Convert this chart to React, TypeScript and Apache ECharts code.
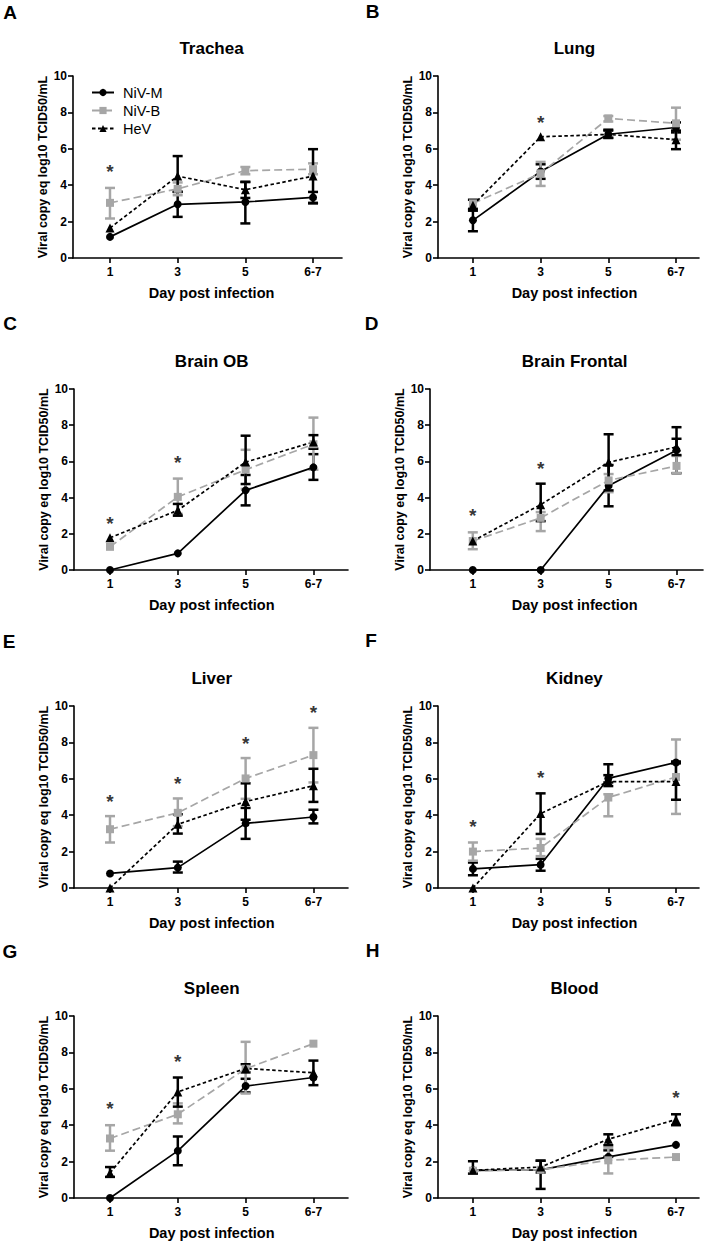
import React, { useEffect, useRef } from "react";
import * as echarts from "echarts";

// ---------- DATA ----------
const DAY_LABELS = ["1", "3", "5", "6-7"];
const DAY_POS = [1, 2, 3, 4];
const PANEL_LETTERS = ["A", "B", "C", "D", "E", "F", "G", "H"];
const ORGANS = ["Trachea", "Lung", "Brain OB", "Brain Frontal", "Liver", "Kidney", "Spleen", "Blood"];
const SERIES_NAMES = ["NiV-M", "NiV-B", "HeV"];

// NiV-M (per panel, per day)
const NIVM_MEAN = [
  [1.16, 2.95, 3.08, 3.33],
  [2.07, 4.75, 6.8, 7.17],
  [0, 0.92, 4.4, 5.67],
  [0, 0, 4.66, 6.62],
  [0.8, 1.12, 3.55, 3.9],
  [1.05, 1.28, 6.02, 6.9],
  [0, 2.59, 6.15, 6.62],
  [1.52, 1.55, 2.26, 2.92],
];
const NIVM_LOW = [
  [1.16, 2.26, 1.9, 3.03],
  [1.47, 4.35, 6.6, 6.9],
  [0, 0.92, 3.57, 4.98],
  [0, 0, 3.52, 5.35],
  [0.8, 0.85, 2.7, 3.55],
  [0.7, 0.95, 5.8, 6.85],
  [0, 1.8, 5.8, 6.2],
  [1.52, 0.5, 2.26, 2.92],
];
const NIVM_HIGH = [
  [1.16, 3.64, 4.18, 3.63],
  [2.7, 5.15, 7.05, 7.45],
  [0, 0.92, 5.25, 6.4],
  [0, 0, 5.8, 7.89],
  [0.8, 1.45, 4.4, 4.3],
  [1.4, 1.6, 6.8, 6.95],
  [0, 3.38, 6.55, 7.55],
  [1.52, 2.05, 2.62, 2.92],
];

// NiV-B
const NIVB_MEAN = [
  [3.03, 3.8, 4.8, 4.88],
  [3.0, 4.65, 7.67, 7.4],
  [1.28, 4.04, 5.54, 6.95],
  [1.6, 2.88, 4.95, 5.75],
  [3.23, 4.13, 6.02, 7.3],
  [2.0, 2.2, 4.97, 6.1],
  [3.27, 4.6, 7.1, 8.48],
  [1.5, 1.55, 2.07, 2.25],
];
const NIVB_LOW = [
  [2.17, 3.45, 4.6, 4.6],
  [3.0, 3.96, 7.5, 6.5],
  [1.28, 3.1, 4.48, 5.54],
  [1.15, 2.15, 4.3, 5.35],
  [2.5, 3.4, 4.9, 5.8],
  [1.5, 1.75, 3.94, 4.07],
  [2.6, 4.1, 5.74, 8.48],
  [1.5, 1.55, 1.35, 2.25],
];
const NIVB_HIGH = [
  [3.85, 4.15, 5.0, 5.2],
  [3.0, 5.28, 7.8, 8.26],
  [1.28, 5.05, 6.64, 8.42],
  [2.08, 3.2, 5.3, 6.3],
  [3.95, 4.92, 7.14, 8.8],
  [2.5, 2.7, 5.15, 8.16],
  [4.0, 5.2, 8.58, 8.48],
  [1.5, 1.55, 2.75, 2.25],
];

// HeV
const HEV_MEAN = [
  [1.65, 4.5, 3.75, 4.5],
  [2.9, 6.66, 6.79, 6.5],
  [1.78, 3.3, 5.96, 7.07],
  [1.6, 3.61, 5.95, 6.8],
  [0, 3.5, 4.75, 5.62],
  [0, 4.09, 5.85, 5.85],
  [1.38, 5.83, 7.12, 6.88],
  [1.52, 1.7, 3.23, 4.31],
];
const HEV_LOW = [
  [1.65, 3.63, 3.3, 3.0],
  [2.6, 6.66, 6.6, 5.98],
  [1.78, 3.0, 4.75, 6.7],
  [1.6, 2.7, 4.4, 6.35],
  [0, 2.99, 3.75, 4.73],
  [0, 2.97, 5.6, 4.85],
  [1.16, 5.02, 6.9, 6.88],
  [1.34, 1.4, 2.9, 4.0],
];
const HEV_HIGH = [
  [1.65, 5.6, 4.18, 5.98],
  [3.2, 6.66, 7.0, 7.0],
  [1.78, 3.65, 7.42, 7.45],
  [1.6, 4.77, 7.5, 7.25],
  [0, 4.05, 5.75, 6.55],
  [0, 5.2, 6.2, 6.9],
  [1.7, 6.62, 7.35, 6.88],
  [2.02, 2.05, 3.5, 4.6],
];

// significance asterisks: [day position, y level]
const STARS = [
  [[1, 5.0]],
  [[2, 7.67]],
  [[1, 2.83], [2, 6.18]],
  [[1, 3.25], [2, 5.85]],
  [[1, 5.0], [2, 6.0], [3, 8.18], [4, 9.87]],
  [[1, 3.63], [2, 6.33]],
  [[1, 5.16], [2, 7.76]],
  [[4, 5.78]],
];

const Y_MIN = 0;
const Y_MAX = 10;
const Y_INTERVAL = 2;

// ---------- LAYOUT / STYLE ----------
const LAYOUT = [
  { left: 73, top: 76, width: 269, height: 182, xMin: 0.4535, xMax: 4.428, lx: 10, ly: 12.5 },
  { left: 438, top: 76, width: 261, height: 182, xMin: 0.484, xMax: 4.34, lx: 372.5, ly: 11.5 },
  { left: 74, top: 389, width: 274, height: 181, xMin: 0.469, xMax: 4.51, lx: 10, ly: 323.5 },
  { left: 430, top: 389, width: 273, height: 181, xMin: 0.37, xMax: 4.39, lx: 371.5, ly: 323.5 },
  { left: 74, top: 706, width: 274, height: 182, xMin: 0.469, xMax: 4.51, lx: 9, ly: 641 },
  { left: 438, top: 706, width: 261, height: 182, xMin: 0.484, xMax: 4.34, lx: 371, ly: 640 },
  { left: 74, top: 1016, width: 274, height: 182, xMin: 0.469, xMax: 4.51, lx: 10, ly: 951.5 },
  { left: 438, top: 1016, width: 261, height: 182, xMin: 0.484, xMax: 4.34, lx: 372.5, ly: 950.5 },
];

const FONT = "'Liberation Sans', Arial, Helvetica, sans-serif";
const GRAY = "#a6a6a6";
const BLACK = "#000000";

const SERIES_DEF = [
  { name: SERIES_NAMES[0], mean: NIVM_MEAN, low: NIVM_LOW, high: NIVM_HIGH, color: BLACK, dash: "solid" as any, symbol: "circle", size: 8 },
  { name: SERIES_NAMES[1], mean: NIVB_MEAN, low: NIVB_LOW, high: NIVB_HIGH, color: GRAY, dash: [8, 4] as any, symbol: "rect", size: 8 },
  { name: SERIES_NAMES[2], mean: HEV_MEAN, low: HEV_LOW, high: HEV_HIGH, color: BLACK, dash: [3.5, 2.5] as any, symbol: "triangle", size: 9 },
];

function buildOption() {
  const grid: any[] = [];
  const xAxis: any[] = [];
  const yAxis: any[] = [];
  const series: any[] = [];
  const graphic: any[] = [];

  LAYOUT.forEach((l, i) => {
    grid.push({ left: l.left, top: l.top, width: l.width, height: l.height });
    const span = l.xMax - l.xMin;
    const catCenter = l.left + ((2.5 - l.xMin) / span) * l.width;
    const axisCenter = l.left + l.width / 2;
    const shift = catCenter - axisCenter;
    const pad = shift > 0 ? [0, 0, 0, 2 * shift] : [0, -2 * shift, 0, 0];

    xAxis.push({
      gridIndex: i,
      type: "value",
      min: l.xMin,
      max: l.xMax,
      axisLine: { show: true, onZero: false, lineStyle: { color: BLACK, width: 1.6 } },
      axisTick: { show: true, customValues: DAY_POS, length: 5, lineStyle: { color: BLACK, width: 1.6 } },
      axisLabel: {
        customValues: DAY_POS,
        formatter: (v: number) => DAY_LABELS[Math.round(v) - 1] ?? "",
        fontSize: 12,
        fontWeight: "bold",
        color: BLACK,
        margin: 8,
        fontFamily: FONT,
      },
      splitLine: { show: false },
      name: "Day post infection",
      nameLocation: "middle",
      nameGap: 27,
      nameTextStyle: { fontSize: 14.5, fontWeight: "bold", color: BLACK, fontFamily: FONT, padding: pad },
    });
    yAxis.push({
      gridIndex: i,
      type: "value",
      min: Y_MIN,
      max: Y_MAX,
      interval: Y_INTERVAL,
      axisLine: { show: true, lineStyle: { color: BLACK, width: 1.6 } },
      axisTick: { show: true, length: 5, lineStyle: { color: BLACK, width: 1.6 } },
      axisLabel: { fontSize: 12, fontWeight: "bold", color: BLACK, margin: 6, fontFamily: FONT },
      splitLine: { show: false },
      name: "Viral copy eq log10 TCID50/mL",
      nameLocation: "middle",
      nameRotate: 90,
      nameGap: 22,
      nameTextStyle: { fontSize: 12.5, fontWeight: "bold", color: BLACK, fontFamily: FONT },
    });

    SERIES_DEF.forEach((d) => {
      series.push({
        type: "custom",
        name: d.name + " error",
        xAxisIndex: i,
        yAxisIndex: i,
        silent: true,
        clip: false,
        z: 2,
        encode: { x: 0, y: [1, 2] },
        data: DAY_POS.map((x, k) => [x, d.low[i][k], d.high[i][k]]),
        renderItem: (_p: any, api: any) => {
          const x = api.value(0);
          const lo = api.value(1);
          const hi = api.value(2);
          if (hi - lo < 0.05) return { type: "group", children: [] };
          const a = api.coord([x, lo]);
          const b = api.coord([x, hi]);
          const w = 5;
          const style = { stroke: d.color, lineWidth: 2.5 };
          return {
            type: "group",
            children: [
              { type: "line", shape: { x1: a[0], y1: a[1], x2: b[0], y2: b[1] }, style },
              { type: "line", shape: { x1: a[0] - w, y1: a[1], x2: a[0] + w, y2: a[1] }, style },
              { type: "line", shape: { x1: b[0] - w, y1: b[1], x2: b[0] + w, y2: b[1] }, style },
            ],
          };
        },
      });
      series.push({
        type: "line",
        name: d.name,
        xAxisIndex: i,
        yAxisIndex: i,
        clip: false,
        z: 3,
        data: DAY_POS.map((x, k) => [x, d.mean[i][k]]),
        symbol: d.symbol,
        symbolSize: d.size,
        showSymbol: true,
        lineStyle: { color: d.color, width: 1.7, type: d.dash },
        itemStyle: { color: d.color, borderWidth: 0 },
        emphasis: { disabled: true },
      });
    });

    series.push({
      type: "scatter",
      name: "sig" + i,
      xAxisIndex: i,
      yAxisIndex: i,
      silent: true,
      z: 4,
      symbol: "circle",
      symbolSize: 2,
      itemStyle: { color: "rgba(255,255,255,0)" },
      emphasis: { disabled: true },
      data: STARS[i],
      label: {
        show: true,
        position: [1, 1],
        align: "center",
        verticalAlign: "middle",
        formatter: "*",
        fontSize: 19,
        fontWeight: "bold",
        color: BLACK,
        fontFamily: FONT,
        offset: [0, 4.5],
      },
    });

    graphic.push({
      type: "text",
      x: catCenter,
      y: l.top - 28,
      style: {
        text: ORGANS[i],
        font: `bold 17px ${FONT}`,
        fill: BLACK,
        textAlign: "center",
        textVerticalAlign: "middle",
      },
    });
    graphic.push({
      type: "text",
      x: l.lx,
      y: l.ly,
      style: {
        text: PANEL_LETTERS[i],
        font: `bold 19px ${FONT}`,
        fill: BLACK,
        textAlign: "center",
        textVerticalAlign: "middle",
      },
    });
  });

  return {
    animation: false,
    backgroundColor: "#ffffff",
    grid,
    xAxis,
    yAxis,
    series,
    graphic,
    legend: {
      data: SERIES_NAMES,
      orient: "vertical",
      left: 86,
      top: 80,
      itemWidth: 22,
      itemHeight: 9,
      itemGap: 3,
      selectedMode: false,
      textStyle: { fontSize: 14.5, color: BLACK, fontFamily: FONT, padding: [0, 0, 0, 4] },
    },
  };
}

export default function App() {
  const ref = useRef<HTMLDivElement>(null);
  useEffect(() => {
    if (!ref.current) return;
    const chart = echarts.init(ref.current, undefined, { renderer: "svg" });
    chart.setOption(buildOption() as any);
    return () => chart.dispose();
  }, []);
  return (
    <div
      ref={ref}
      style={{ position: "absolute", left: 0, top: 0, width: 713, height: 1242, background: "#fff" }}
    />
  );
}
